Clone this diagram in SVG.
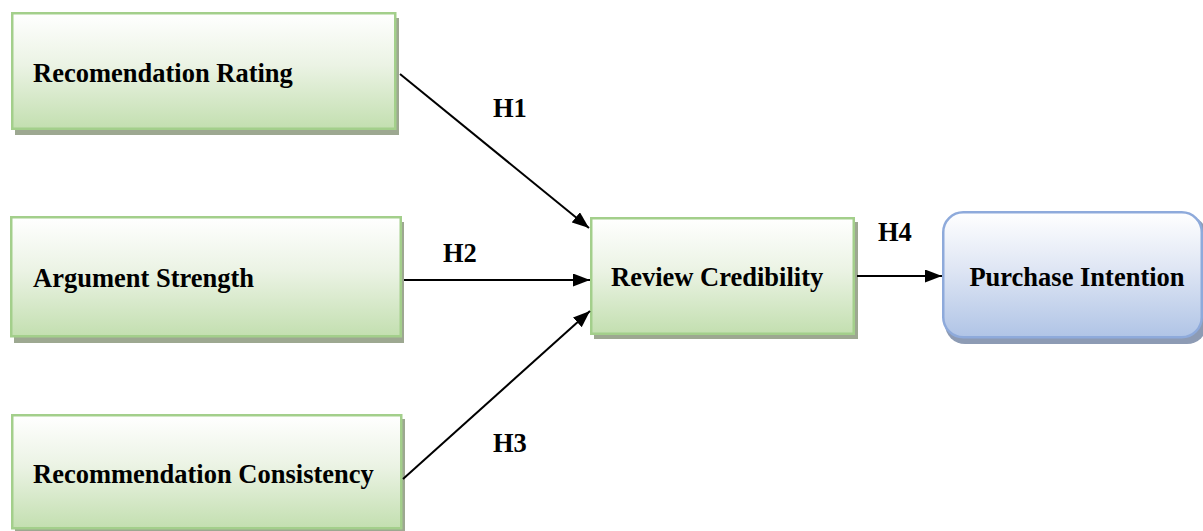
<svg xmlns="http://www.w3.org/2000/svg" width="1203" height="531" viewBox="0 0 1203 531">
  <defs>
    <linearGradient id="gGreen" x1="0" y1="0" x2="0" y2="1">
      <stop offset="0" stop-color="#ffffff"/>
      <stop offset="0.45" stop-color="#ebf3e4"/>
      <stop offset="1" stop-color="#c3dfb0"/>
    </linearGradient>
    <linearGradient id="gBlue" x1="0" y1="0" x2="0" y2="1">
      <stop offset="0" stop-color="#ffffff"/>
      <stop offset="0.45" stop-color="#dfe6f4"/>
      <stop offset="1" stop-color="#b0c4e6"/>
    </linearGradient>
    <marker id="arrow" markerUnits="userSpaceOnUse" markerWidth="18" markerHeight="14" refX="17" refY="6.5" orient="auto">
      <path d="M0,0 L17,6.5 L0,13 z" fill="#000"/>
    </marker>
    <style>
      .gbox { fill: url(#gGreen); stroke: #a3cf8b; stroke-width: 2.5; }
      .gshadow { fill: #9da891; }
      .bbox { fill: url(#gBlue); stroke: #8eaadb; stroke-width: 2.5; }
      .bshadow { fill: #8d9bb4; }
      .lbl { font-family: "Liberation Serif", "Times New Roman", serif; font-weight: bold; font-size: 26.5px; fill: #000; }
      .edge { stroke: #000; stroke-width: 2; fill: none; marker-end: url(#arrow); }
    </style>
  </defs>

  <g id="node-recommendation-rating">
    <rect class="gshadow" x="15" y="18" width="384" height="117"/>
    <rect class="gbox" x="12.25" y="13.25" width="383" height="115.5"/>
    <text class="lbl" x="33" y="82">Recomendation Rating</text>
  </g>

  <g id="node-argument-strength">
    <rect class="gshadow" x="14" y="222" width="390" height="121"/>
    <rect class="gbox" x="11.25" y="217.25" width="389.5" height="119"/>
    <text class="lbl" x="33" y="287">Argument Strength</text>
  </g>

  <g id="node-recommendation-consistency">
    <rect class="gshadow" x="15" y="419" width="390" height="116"/>
    <rect class="gbox" x="12.25" y="415.25" width="389" height="113"/>
    <text class="lbl" x="33" y="483">Recommendation Consistency</text>
  </g>

  <g id="node-review-credibility">
    <rect class="gshadow" x="594" y="222" width="264" height="117"/>
    <rect class="gbox" x="591.25" y="218.25" width="262.5" height="115.5"/>
    <text class="lbl" x="611" y="286">Review Credibility</text>
  </g>

  <g id="node-purchase-intention">
    <rect class="bshadow" x="945" y="216" width="262" height="128" rx="20"/>
    <rect class="bbox" x="943.25" y="212.25" width="258.5" height="125" rx="20"/>
    <text class="lbl" x="1077" y="286" text-anchor="middle">Purchase Intention</text>
  </g>

  <g id="connectors">
    <line class="edge" x1="400" y1="74" x2="589" y2="228"/>
    <line class="edge" x1="404" y1="280" x2="590" y2="280"/>
    <line class="edge" x1="403" y1="479" x2="590" y2="311"/>
    <line class="edge" x1="857" y1="276" x2="942" y2="276"/>
    <text class="lbl" x="493" y="117">H1</text>
    <text class="lbl" x="443" y="262">H2</text>
    <text class="lbl" x="493" y="452">H3</text>
    <text class="lbl" x="878" y="241">H4</text>
  </g>
</svg>
